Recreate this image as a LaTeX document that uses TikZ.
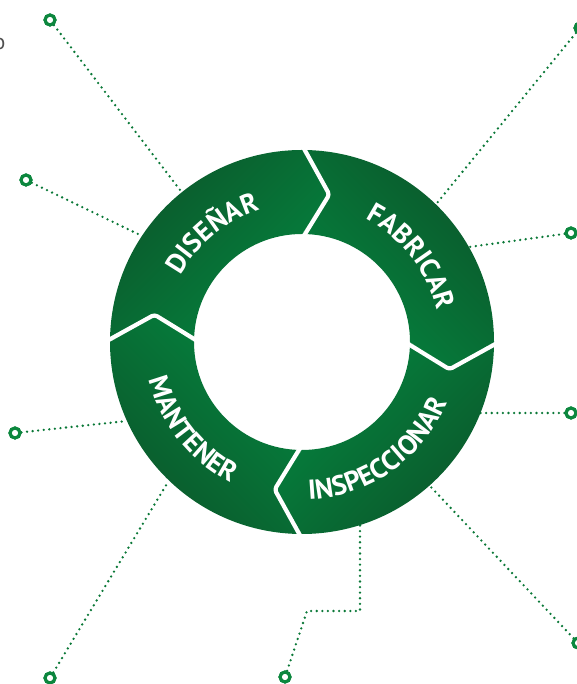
\documentclass[tikz,border=0pt]{standalone}
\usepackage{fontspec}
\newfontfamily\segfont{PT Sans}
\usetikzlibrary{decorations.text}
\definecolor{gdark}{RGB}{11,88,43}
\definecolor{glight}{RGB}{4,132,63}
\definecolor{dotgreen}{RGB}{10,120,55}
\definecolor{pingreen}{RGB}{12,135,62}
\definecolor{lblgray}{RGB}{80,80,80}
\newcommand\ringfont{\segfont\bfseries\fontsize{27.5pt}{27.5pt}\selectfont}
\begin{document}
\begin{tikzpicture}[x=1pt,y=1pt,
  pin/.style={circle, draw=pingreen, line width=3pt, minimum size=10pt, inner sep=0pt, fill=white},
  dotline/.style={dotgreen, line width=2.6pt, line cap=round, dash pattern=on 0pt off 5.6pt},
  gap/.style={white, line width=4.2pt, line join=round, rounded corners=3pt},
  ringtext/.style={decorate, decoration={text along path, text={#1}, text align=center, text color=white}}
]
\useasboundingbox (0,0) rectangle (577,684);
\clip (0,0) rectangle (577,684);
\coordinate (C) at (302,342);

% cropped label at the left edge
\node[text=lblgray, inner sep=0pt, font=\segfont\fontsize{22pt}{22pt}\selectfont] (olbl) at (-0.5,640) {o};

% pins and their ends on the ring
\node[pin] (p1) at (50,664) {};
\node[pin] (p2) at (26,504) {};
\node[pin] (p3) at (15,251) {};
\node[pin] (p4) at (50,6) {};
\node[pin] (p5) at (285,7) {};
\node[pin] (p6) at (578,41) {};
\node[pin] (p7) at (571,271) {};
\node[pin] (p8) at (571,451) {};
\node[pin] (p9) at (580,656) {};
\coordinate (e1) at (180,494);
\coordinate (e2) at (140,449);
\coordinate (e3) at (127,263);
\coordinate (e4) at (168,202);
\coordinate (k5a) at (307,73);
\coordinate (k5b) at (360,73);
\coordinate (e5) at (360,159);
\coordinate (e6) at (430,198);
\coordinate (e7) at (480,271);
\coordinate (e8) at (469,437);
\coordinate (e9) at (437,481);

\draw[dotline] (p1) -- (e1);
\draw[dotline] (p2) -- (e2);
\draw[dotline] (p3) -- (e3);
\draw[dotline] (p4) -- (e4);
\draw[dotline] (p5) -- (k5a) -- (k5b) -- (e5);
\draw[dotline] (p6) -- (e6);
\draw[dotline] (p7) -- (e7);
\draw[dotline] (p8) -- (e8);
\draw[dotline] (p9) -- (e9);
% redraw pins on top
\foreach \p in {p1,p2,p3,p4,p5,p6,p7,p8,p9} \draw[pingreen, line width=3pt] (\p) circle[radius=5pt];

\begin{scope}[shift={(302,342)}]
% DISENAR
\shade[left color=gdark, right color=glight, shading angle=45]
  (180:192) arc[start angle=180, end angle=90, radius=192] -- (79.5:150) -- (90:108)
  arc[start angle=90, end angle=180, radius=108] -- (169.5:150) -- cycle;
% FABRICAR
\shade[left color=gdark, right color=glight, shading angle=-45]
  (90:192) arc[start angle=90, end angle=0, radius=192] -- (-10.5:150) -- (0:108)
  arc[start angle=0, end angle=90, radius=108] -- (79.5:150) -- cycle;
% INSPECCIONAR
\shade[left color=gdark, right color=glight, shading angle=-135]
  (0:192) arc[start angle=0, end angle=-90, radius=192] -- (-100.5:150) -- (-90:108)
  arc[start angle=-90, end angle=0, radius=108] -- (-10.5:150) -- cycle;
% MANTENER
\shade[left color=gdark, right color=glight, shading angle=135]
  (270:192) arc[start angle=270, end angle=180, radius=192] -- (169.5:150) -- (180:108)
  arc[start angle=180, end angle=270, radius=108] -- (259.5:150) -- cycle;

% white gaps
\draw[gap] (90:197) -- (79.5:150) -- (90:103);
\draw[gap] (0:197) -- (-10.5:150) -- (0:103);
\draw[gap] (-90:197) -- (-100.5:150) -- (-90:103);
\draw[gap] (180:197) -- (169.5:150) -- (180:103);

% labels
\path[ringtext={|\ringfont|DISEÑAR}] (179.5:138.5) arc[start angle=179.5, end angle=79.5, radius=138.5];
\path[ringtext={|\ringfont|FABRICAR}] (88:138.5) arc[start angle=88, end angle=-12, radius=138.5];
\path[ringtext={|\ringfont|INSPECCIONAR}] (-115:157.5) arc[start angle=-115, end angle=5, radius=157.5];
\path[ringtext={|\ringfont|MANTENER}] (168.5:157.5) arc[start angle=168.5, end angle=268.5, radius=157.5];
\end{scope}
\end{tikzpicture}
\end{document}
